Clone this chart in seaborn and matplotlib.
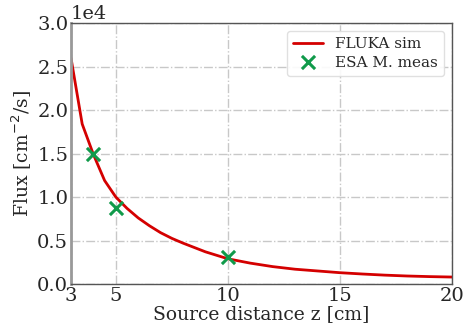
import numpy as np
import pandas as pd
import matplotlib
matplotlib.use("Agg")
import matplotlib.pyplot as plt
import seaborn as sns

sim_z = [3, 3.5, 4, 4.5, 5, 5.5, 6, 6.5, 7, 7.5, 8, 9, 10, 11, 12, 13, 14, 15, 16, 17, 18, 19, 20]
sim_flux = [26000, 18400, 14900, 11900, 10000, 8700, 7600, 6700, 5900, 5250, 4700, 3700, 2900,
            2400, 2000, 1700, 1500, 1300, 1150, 1020, 920, 850, 800]
meas_z = [4, 5, 10]
meas_flux = [15000, 8700, 3100]

sns.set_theme(style="whitegrid")
plt.rcParams['font.family'] = ['DejaVu Serif']

fig = plt.figure(figsize=(4.64, 3.31), dpi=100)
ax = fig.add_axes([0.153, 0.142, 0.821, 0.788])

sim = pd.DataFrame({"z": sim_z, "flux": sim_flux})
meas = pd.DataFrame({"z": meas_z, "flux": meas_flux})

sns.lineplot(data=sim, x="z", y="flux", ax=ax, color="#d40000", lw=2, label="FLUKA sim")
sns.scatterplot(data=meas, x="z", y="flux", ax=ax, marker="x", s=90, color="#109a4a",
                linewidth=2.2, label="ESA M. meas", zorder=5)

ax.set_xlim(3, 20)
ax.set_ylim(0, 30000)
ax.set_xticks([3, 5, 10, 15, 20])
ax.set_yticks(np.arange(0, 30001, 5000))
ax.ticklabel_format(axis="y", style="sci", scilimits=(4, 4))
ax.yaxis.get_offset_text().set_fontsize(14)
ax.tick_params(labelsize=14, length=0, pad=2)
ax.set_xlabel("Source distance z [cm]", fontsize=13.5, labelpad=0)
ax.set_ylabel("Flux [cm$^{-2}$/s]", fontsize=13.5, labelpad=2)

ax.grid(True, linestyle="-.", color="#c8c8c8", lw=1)
for s in ax.spines.values():
    s.set_color("#555555")
    s.set_linewidth(1.0)
ax.spines["left"].set_color("#999999")
ax.spines["left"].set_linewidth(2)

ax.legend(loc="upper right", fontsize=11, frameon=True, framealpha=0.9, edgecolor="#dddddd",
          handlelength=2, borderpad=0.4, labelspacing=0.3)

fig.savefig("out.png", dpi=100)
